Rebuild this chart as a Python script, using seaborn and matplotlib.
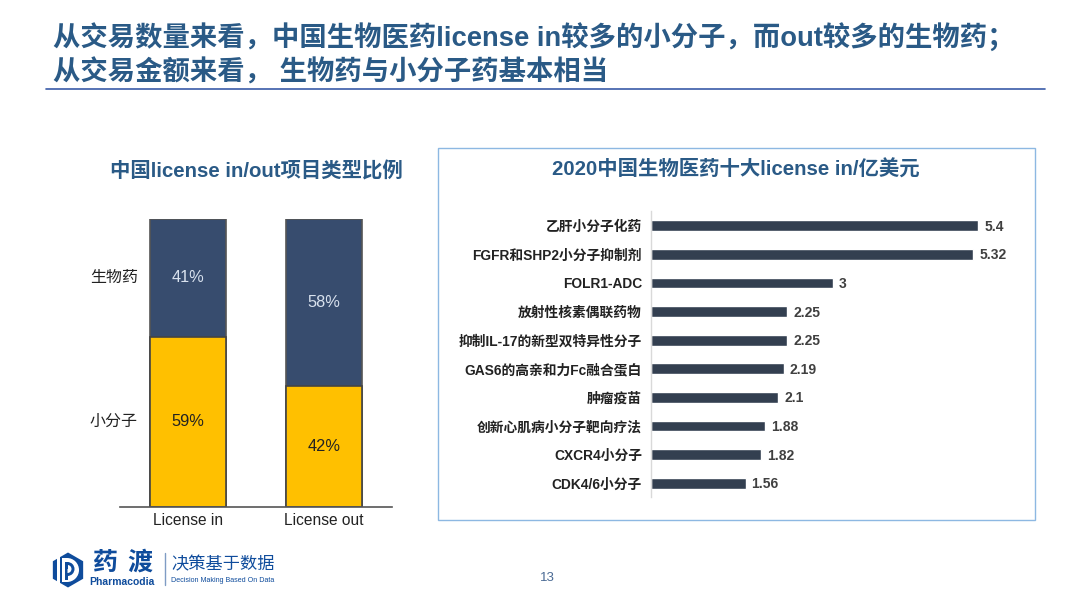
import matplotlib
matplotlib.use("Agg")
import matplotlib.pyplot as plt
from matplotlib.patches import Rectangle, RegularPolygon, Wedge
import seaborn as sns

sns.set_theme(style="white")
FONT = ['Liberation Sans', 'Noto Sans CJK SC', 'DejaVu Sans']
plt.rcParams['font.family'] = FONT

title_lines = ["从交易数量来看，中国生物医药license in较多的小分子，而out较多的生物药；",
               "从交易金额来看， 生物药与小分子药基本相当"]
left_title = "中国license in/out项目类型比例"
right_title = "2020中国生物医药十大license in/亿美元"
deal_types = ["License in", "License out"]
small_molecule = [59, 42]
biologic = [41, 58]
series_names = ["生物药", "小分子"]
top_deals = ["乙肝小分子化药", "FGFR和SHP2小分子抑制剂", "FOLR1-ADC", "放射性核素偶联药物",
             "抑制IL-17的新型双特异性分子", "GAS6的高亲和力Fc融合蛋白", "肿瘤疫苗",
             "创新心肌病小分子靶向疗法", "CXCR4小分子", "CDK4/6小分子"]
top_values = [5.4, 5.32, 3, 2.25, 2.25, 2.19, 2.1, 1.88, 1.82, 1.56]
value_labels = ["5.4", "5.32", "3", "2.25", "2.25", "2.19", "2.1", "1.88", "1.82", "1.56"]

W, H = 1080, 608
NAVY, GOLD, BLUE, BAR = "#374C6E", "#FFC000", "#2A5A86", "#333F50"
fig = plt.figure(figsize=(W / 100, H / 100), dpi=100, facecolor="white")

def axes_px(x0, y0, x1, y1):
    return fig.add_axes([x0 / W, 1 - y1 / H, (x1 - x0) / W, (y1 - y0) / H])

# decoration layer in pixel coordinates
bg = fig.add_axes([0, 0, 1, 1], zorder=0)
bg.set_xlim(0, W); bg.set_ylim(H, 0); bg.axis("off")
bg.text(53, 38.5, title_lines[0], fontsize=19.7, fontweight="bold", color=BLUE, va="center")
bg.text(53, 73, title_lines[1], fontsize=19.7, fontweight="bold", color=BLUE, va="center")
bg.plot([46, 1045], [89, 89], color="#3A5BA8", lw=1.2)
bg.add_patch(Rectangle((438, 148), 597, 372, fill=False, ec="#8DB8E2", lw=1))
bg.text(256, 171, left_title, fontsize=14.7, fontweight="bold", color=BLUE, ha="center", va="center")
bg.text(736, 170, right_title, fontsize=14.7, fontweight="bold", color=BLUE, ha="center", va="center")
bg.text(547, 578, "13", fontsize=9.5, color="#4A6A94", ha="center", va="center")

# logo
LOGO = "#0F4C9C"
bg.add_patch(RegularPolygon((68, 570), 6, radius=17.5, fc=LOGO, ec="none"))
bg.add_patch(Rectangle((57, 550), 3, 40, fc="white", ec="none"))
bg.add_patch(Wedge((67, 570), 12, -90, 90, fc="white", ec="none"))
bg.add_patch(Rectangle((62, 558), 5, 24, fc="white", ec="none"))
bg.add_patch(Rectangle((64.5, 562), 3, 18, fc=LOGO, ec="none"))
bg.add_patch(Wedge((67.5, 569), 7, -90, 90, fc=LOGO, ec="none"))
bg.add_patch(Wedge((67.5, 569), 4, -90, 90, fc="white", ec="none"))
bg.add_patch(Rectangle((64.5, 565), 3, 4, fc=LOGO, ec="none"))
bg.text(105, 563, "药", fontsize=18, fontweight="bold", color=LOGO, ha="center", va="center")
bg.text(140, 563, "渡", fontsize=18, fontweight="bold", color=LOGO, ha="center", va="center")
bg.text(122, 582, "Pharmacodia", fontsize=7.5, fontweight="bold", color=LOGO, ha="center", va="center")
bg.plot([165, 165], [553, 585], color="#7F9CC4", lw=1)
bg.text(223, 564, "决策基于数据", fontsize=12.4, color=LOGO, ha="center", va="center")
bg.text(223, 581, "Decision Making Based On Data", fontsize=5.1, color=LOGO, ha="center", va="center")

# stacked bars
ax = axes_px(120, 218.5, 392, 506.5)
ax.patch.set_alpha(0)
totals = [a + b for a, b in zip(small_molecule, biologic)]
sns.barplot(x=deal_types, y=totals, color=NAVY, width=0.56, saturation=1,
            edgecolor="#555555", linewidth=1.2, ax=ax)
sns.barplot(x=deal_types, y=small_molecule, color=GOLD, width=0.56, saturation=1,
            edgecolor="#444444", linewidth=1.2, ax=ax)
ax.set_xlim(-0.5, 1.5); ax.set_ylim(0, 100)
ax.set_yticks([]); ax.set_ylabel("")
ax.tick_params(axis="x", length=0, pad=5, labelsize=11.2, labelcolor="#222222")
for s in ["top", "left", "right"]:
    ax.spines[s].set_visible(False)
ax.spines["bottom"].set_color("#555555"); ax.spines["bottom"].set_linewidth(1.2)
for i, (sm, bi) in enumerate(zip(small_molecule, biologic)):
    ax.text(i, sm / 2, f"{sm}%", ha="center", va="center", fontsize=11.8, color="#222222")
    ax.text(i, sm + bi / 2, f"{bi}%", ha="center", va="center", fontsize=11.8, color="#D9E2EE")
ax.text(-0.368, small_molecule[0] + biologic[0] / 2, series_names[0], ha="right", va="center",
        fontsize=11.5, color="#222222")
ax.text(-0.368, small_molecule[0] / 2, series_names[1], ha="right", va="center",
        fontsize=11.5, color="#222222")

# horizontal bars
ax2 = axes_px(651, 211.5, 1030, 497.5)
ax2.patch.set_alpha(0)
sns.barplot(x=top_values, y=top_deals, color=BAR, width=0.38, saturation=1, ax=ax2)
ax2.set_xlim(0, 379 / 60.6); ax2.set_xticks([]); ax2.set_xlabel("")
ax2.tick_params(axis="y", length=0, pad=6.5)
for lab in ax2.get_yticklabels():
    lab.set_fontsize(9.9); lab.set_fontweight("bold"); lab.set_color("#222222")
for s in ["top", "bottom", "right"]:
    ax2.spines[s].set_visible(False)
ax2.spines["left"].set_color("#D9D9D9"); ax2.spines["left"].set_linewidth(1)
for i, (v, t) in enumerate(zip(top_values, value_labels)):
    ax2.annotate(t, (v, i), xytext=(4.2, -0.7), textcoords="offset points", va="center",
                 fontsize=10, fontweight="bold", color="#404040")

fig.savefig("out.png", dpi=100, facecolor="white")
